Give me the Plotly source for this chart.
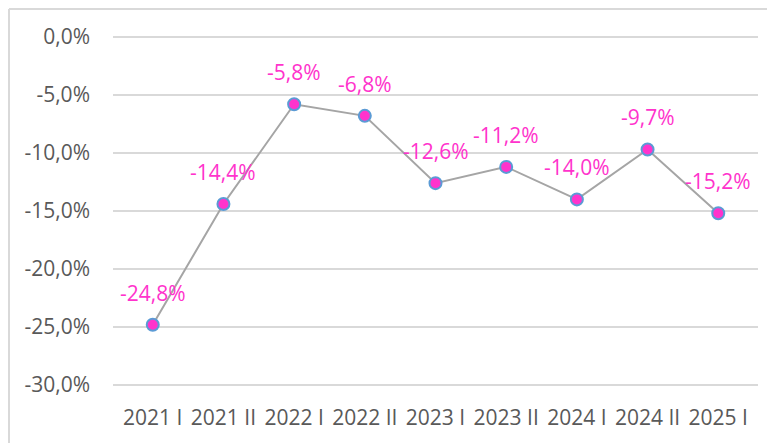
import plotly.graph_objects as go

categories = ["2021 I", "2021 II", "2022 I", "2022 II", "2023 I", "2023 II", "2024 I", "2024 II", "2025 I"]
values = [-24.8, -14.4, -5.8, -6.8, -12.6, -11.2, -14.0, -9.7, -15.2]
y_ticks = [0, -5, -10, -15, -20, -25, -30]
y_tick_labels = ["0,0%", "-5,0%", "-10,0%", "-15,0%", "-20,0%", "-25,0%", "-30,0%"]
point_labels = [f"{v:.1f}%".replace(".", ",") for v in values]

FONT = "Open Sans"
PINK = "#FF33CC"
TEXT = "#595959"
GRID = "#D9D9D9"
FS = 21

# page has an 8px body margin; figure is sized/margined to compensate
W, H = 767, 435
L, R, T, B = 105, 17, 26, 55
PW = W - L - R
PH = H - T - B
PAD = 0.25

fig = go.Figure()
fig.add_trace(go.Scatter(
    x=categories, y=values, mode="lines+markers",
    line=dict(color="#A5A5A5", width=2),
    marker=dict(size=12, color=PINK, line=dict(color="#5B9BD5", width=2)),
    hoverinfo="skip", showlegend=False,
))

for c, v, t in zip(categories, values, point_labels):
    fig.add_annotation(x=c, y=v, xref="x", yref="y", text=t, showarrow=False,
                       yshift=32, font=dict(family=FONT, size=FS, color=PINK))

bx = (1 - L) / PW
by = 1 + (T - 1) / PH
fig.update_layout(
    width=W, height=H,
    margin=dict(l=L, r=R, t=T, b=B),
    paper_bgcolor="white", plot_bgcolor="white",
    font=dict(family=FONT, size=FS, color=TEXT),
    xaxis=dict(type="category", showgrid=False, showline=False, zeroline=False,
               ticks="", ticklabelstandoff=15, tickfont=dict(size=FS, color=TEXT)),
    yaxis=dict(range=[min(y_ticks) - PAD, max(y_ticks) + PAD], tickvals=y_ticks, ticktext=y_tick_labels,
               showgrid=True, gridcolor=GRID, gridwidth=2, zeroline=False,
               showline=False, ticks="", ticklabelstandoff=22,
               tickfont=dict(size=FS, color=TEXT)),
    shapes=[
        dict(type="line", xref="paper", yref="paper",
             x0=bx, x1=(W - L) / PW + 0.05, y0=by, y1=by,
             line=dict(color=GRID, width=2)),
        dict(type="line", xref="paper", yref="paper",
             x0=bx, x1=bx, y0=by, y1=-B / PH - 0.05,
             line=dict(color=GRID, width=2)),
    ],
)

fig.write_html("out.html")
